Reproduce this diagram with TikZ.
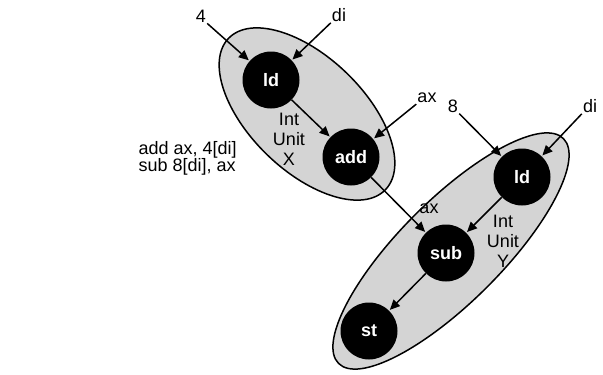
\documentclass[tikz,border=0pt]{standalone}
\usepackage{fontspec}
\setmainfont{Liberation Sans}
\usetikzlibrary{arrows.meta,shapes.geometric}
\definecolor{unitgray}{RGB}{212,212,212}

\begin{document}
\begin{tikzpicture}[
x=1pt, y=-1pt,
 font=\fontsize{18}{20}\selectfont,
   op/.style = {circle, fill=black, text=white,% operation nodes
                font=\fontsize{18}{20}\selectfont\bfseries,
                minimum size=57pt, inner sep=0pt},
 unit/.style = {ellipse, draw, fill=unitgray,% integer units
                line width=1.5pt, inner sep=0pt},
  arr/.style = {-{Triangle[length=10pt,width=9pt]},
                line width=1.5pt, shorten >=1pt},
  lbl/.style = {inner sep=1pt},
                        ]
\useasboundingbox (0,0) rectangle (603,375);
% integer units
\node[unit, minimum width=218pt, minimum height=114pt, rotate=-44] (unitX) at (307,114) {};
\node[unit, minimum width=318pt, minimum height=102pt, rotate=45] (unitY) at (451,251) {};
\node[align=center] (nameX) at (289,139) {Int\\Unit\\X};
\node[align=center] (nameY) at (503,241) {Int\\Unit\\Y};
% operations
\node[op] (ldX) at (271,80)  {ld};
\node[op] (add) at (351,157) {add};
\node[op] (ldY) at (522,177) {ld};
\node[op] (sub) at (446,253) {sub};
\node[op] (st)  at (369,331) {st};
% operands
\node[lbl] (four)  at (201,16)  {4};
\node[lbl] (diX)   at (339,15)  {di};
\node[lbl] (axTop) at (427,98)  {ax};
\node[lbl] (eight) at (453,106) {8};
\node[lbl] (diY)   at (590,106) {di};
\node[lbl] (axMid) at (429,209) {ax};
% program
\node[align=left, anchor=west, font=\fontsize{18}{17}\selectfont] (prog) at (135,158)
     {add ax, 4[di]\\sub 8[di], ax};
% data flow
\draw[arr] (four.south east) -- (ldX);
\draw[arr] (diX.south west) -- (ldX);
\draw[arr] (ldX) -- (add);
\draw[arr] (axTop.south west) -- (add);
\draw[arr] (add) -- (sub);
\draw[arr] (eight.south east) -- (ldY);
\draw[arr] (diY.south west) -- (ldY);
\draw[arr] (ldY) -- (sub);
\draw[arr] (sub) -- (st);
\end{tikzpicture}
\end{document}
